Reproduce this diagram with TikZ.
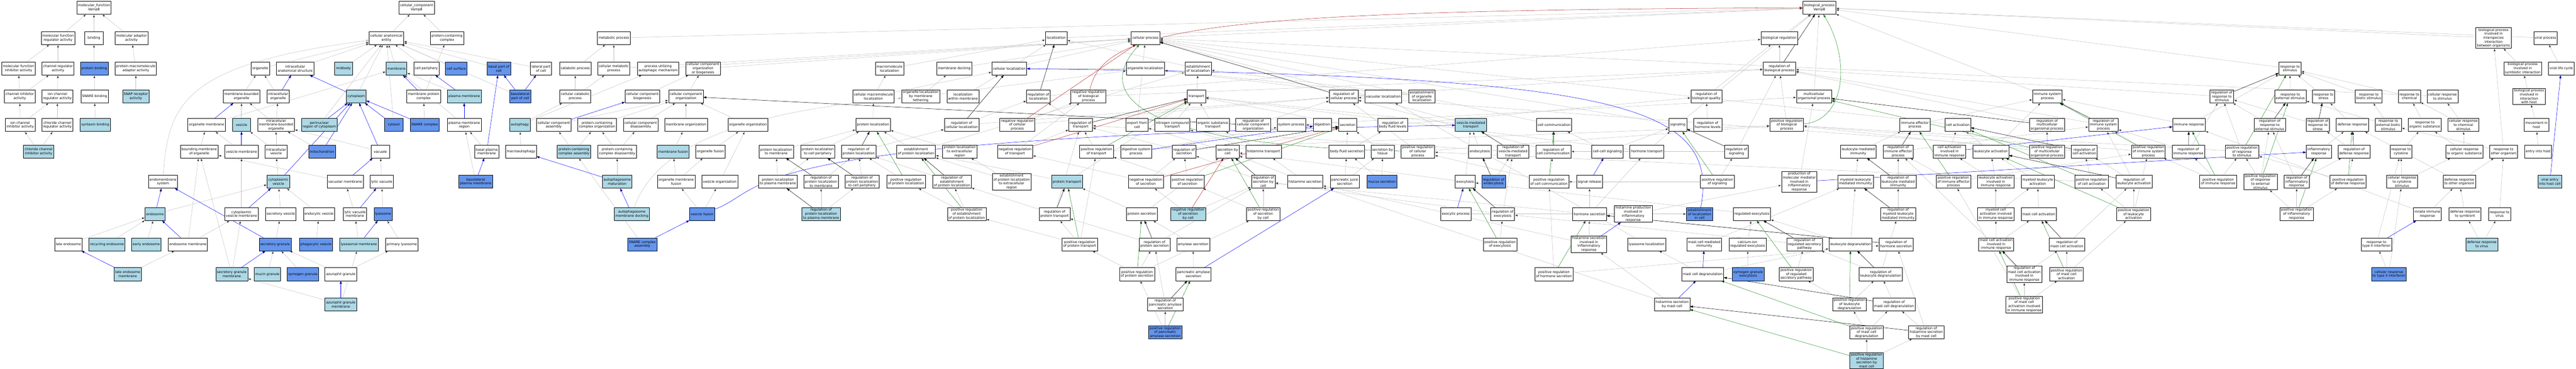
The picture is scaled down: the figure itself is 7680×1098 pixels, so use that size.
\documentclass[tikz,border=0pt]{standalone}
\usepackage{fontspec}
\setmainfont{DejaVu Sans}
\usetikzlibrary{arrows.meta,backgrounds}
\definecolor{isagrey}{RGB}{192,192,192}
\definecolor{hitblue}{RGB}{173,216,230}
\definecolor{geneblue}{RGB}{100,149,237}
\definecolor{posgreen}{RGB}{34,139,34}
\definecolor{negred}{RGB}{178,34,34}

\begin{document}
\begin{tikzpicture}[x=1pt, y=-1pt]
  \tikzstyle{term}=[draw=black, line width=0.8pt, fill=white, align=center,
    font=\fontsize{10}{11.8}\selectfont, inner xsep=3.5pt, inner ysep=2pt,
    minimum width=54pt, minimum height=38.5pt]
  \tikzstyle{lbterm}=[term, fill=hitblue]
  \tikzstyle{cbterm}=[term, fill=geneblue]
  \tikzstyle{link}=[draw, line width=0.8pt, -{Triangle[length=9pt,width=6.5pt]}]
  \tikzstyle{isa}=[link, draw=isagrey]
  \tikzstyle{partof}=[link, draw=blue]
  \tikzstyle{regs}=[link, draw=black]
  \tikzstyle{posregs}=[link, draw=posgreen]
  \tikzstyle{negregs}=[link, draw=negred]

  \useasboundingbox (0,0) rectangle (7680,1098);

  \path (280,23) node[term] (mf) {molecular\_function\\Vamp8};
  \path (173,113) node[term] (mfreg) {molecular function\\regulator activity};
  \path (280,113) node[term] (binding) {binding};
  \path (392,113) node[term] (mfadapt) {molecular adaptor\\activity};
  \path (55,204) node[term] (mfinh) {molecular function\\inhibitor activity};
  \path (173,204) node[term] (chanreg) {channel regulator\\activity};
  \path (281,204) node[cbterm] (protbind) {protein binding};
  \path (405,204) node[term] (pmadapt) {protein-macromolecule\\adaptor activity};
  \path (59,287) node[term] (chaninh) {channel inhibitor\\activity};
  \path (171,287) node[term] (ionchanreg) {ion channel\\regulator activity};
  \path (282,287) node[term] (snarebind) {SNARE binding};
  \path (405,287) node[lbterm] (snaprec) {SNAP receptor\\activity};
  \path (60,372) node[term] (ionchaninh) {ion channel\\inhibitor activity};
  \path (171,372) node[term] (clchanreg) {chloride channel\\regulator activity};
  \path (284,372) node[lbterm] (syntaxin) {syntaxin binding};
  \path (115,451) node[lbterm] (clchaninh) {chloride channel\\inhibitor activity};

  \path (1242,23) node[term] (cc) {cellular\_component\\Vamp8};
  \path (1152,113) node[term] (cae) {cellular anatomical\\entity};
  \path (1333,113) node[term] (pcc) {protein-containing\\complex};
  \path (776,204) node[term] (organelle) {organelle};
  \path (880,204) node[term] (ias) {intracellular\\anatomical structure};
  \path (1024,204) node[lbterm] (midbody) {midbody};
  \path (1182,204) node[lbterm] (membrane) {membrane};
  \path (1271,204) node[term] (cellperiph) {cell periphery};
  \path (1360,204) node[cbterm] (cellsurf) {cell surface};
  \path (1487,204) node[cbterm] (basalpart) {basal part of\\cell};
  \path (1613,204) node[term] (lateralpart) {lateral part\\of cell};
  \path (720,287) node[term] (mbo) {membrane-bounded\\organelle};
  \path (829,287) node[term] (intraorg) {intracellular\\organelle};
  \path (1062,287) node[lbterm] (cytoplasm) {cytoplasm};
  \path (1263,287) node[term] (memprot) {membrane protein\\complex};
  \path (1384,287) node[lbterm] (pm) {plasma membrane};
  \path (1551,287) node[cbterm] (basolatpart) {basolateral\\part of cell};
  \path (616,372) node[term] (orgmem) {organelle membrane};
  \path (720,372) node[lbterm] (vesicle) {vesicle};
  \path (823,372) node[term] (imbo) {intracellular\\membrane-bounded\\organelle};
  \path (952,372) node[lbterm] (perinuc) {perinuclear\\region of cytoplasm};
  \path (1174,372) node[cbterm] (cytosol) {cytosol};
  \path (1266,372) node[cbterm] (snarecx) {SNARE complex};
  \path (1384,372) node[term] (pmregion) {plasma membrane\\region};
  \path (594,451) node[term] (boundmem) {bounding membrane\\of organelle};
  \path (720,451) node[term] (vesmem) {vesicle membrane};
  \path (823,451) node[term] (intraves) {intracellular\\vesicle};
  \path (960,451) node[cbterm] (mito) {mitochondrion};
  \path (1134,451) node[term] (vacuole) {vacuole};
  \path (1451,451) node[term] (basalpm) {basal plasma\\membrane};
  \path (486,541) node[term] (endomem) {endomembrane\\system};
  \path (830,541) node[lbterm] (cytoves) {cytoplasmic\\vesicle};
  \path (1029,541) node[term] (vacmem) {vacuolar membrane};
  \path (1138,541) node[term] (lyticvac) {lytic vacuole};
  \path (1418,541) node[cbterm] (basolatpm) {basolateral\\plasma membrane};
  \path (462,637) node[lbterm] (endosome) {endosome};
  \path (720,637) node[term] (cytovesmem) {cytoplasmic\\vesicle membrane};
  \path (837,637) node[term] (secves) {secretory vesicle};
  \path (951,637) node[term] (endoves) {endocytic vesicle};
  \path (1058,637) node[term] (lyticvacmem) {lytic vacuole\\membrane};
  \path (1142,637) node[cbterm] (lysosome) {lysosome};
  \path (204,727) node[term] (lateendo) {late endosome};
  \path (319,727) node[lbterm] (recycendo) {recycling endosome};
  \path (436,727) node[lbterm] (earlyendo) {early endosome};
  \path (560,727) node[term] (endomemb) {endosome membrane};
  \path (820,727) node[cbterm] (secgran) {secretory granule};
  \path (942,727) node[cbterm] (phagoves) {phagocytic vesicle};
  \path (1070,727) node[lbterm] (lysomem) {lysosomal membrane};
  \path (1198,727) node[term] (primlyso) {primary lysosome};
  \path (381,816) node[lbterm] (lateendomem) {late endosome\\membrane};
  \path (691,816) node[lbterm] (secgranmem) {secretory granule\\membrane};
  \path (797,816) node[lbterm] (mucin) {mucin granule};
  \path (903,816) node[cbterm] (zymogen) {zymogen granule};
  \path (1016,816) node[term] (azuro) {azurophil granule};
  \path (1016,906) node[lbterm] (azuromem) {azurophil granule\\membrane};

  \path (5424,23) node[term] (bp) {biological\_process\\Vamp8};
  \path (1830,113) node[term] (metab) {metabolic process};
  \path (1715,204) node[term] (catab) {catabolic process};
  \path (1830,204) node[term] (cellmetab) {cellular metabolic\\process};
  \path (1962,204) node[term] (autoproc) {process utilizing\\autophagic mechanism};
  \path (1715,287) node[term] (cellcatab) {cellular catabolic\\process};
  \path (1915,287) node[term] (ccbiogen) {cellular component\\biogenesis};
  \path (1550,372) node[lbterm] (autophagy) {autophagy};
  \path (1651,372) node[term] (ccassembly) {cellular component\\assembly};
  \path (1780,372) node[term] (pccorg) {protein-containing\\complex organization};
  \path (1910,372) node[term] (ccdisasm) {cellular component\\disassembly};
  \path (1553,451) node[term] (macroauto) {macroautophagy};
  \path (1711,451) node[lbterm] (pccasm) {protein-containing\\complex assembly};
  \path (1840,451) node[term] (pccdisasm) {protein-containing\\complex disassembly};
  \path (1840,541) node[lbterm] (autophmat) {autophagosome\\maturation};
  \path (1884,637) node[lbterm] (autophdock) {autophagosome\\membrane docking};
  \path (1915,727) node[cbterm] (snareasm) {SNARE complex\\assembly};
  \path (2096,204) node[term] (ccorgbio) {cellular component\\organization\\or biogenesis};
  \path (2045,287) node[term] (ccorg) {cellular component\\organization};
  \path (2045,372) node[term] (memorg) {membrane organization};
  \path (2230,372) node[term] (orgorg) {organelle organization};
  \path (2007,451) node[lbterm] (memfusion) {membrane fusion};
  \path (2118,451) node[term] (orgfusion) {organelle fusion};
  \path (2016,541) node[term] (orgmemfusion) {organelle membrane\\fusion};
  \path (2146,541) node[term] (vesorg) {vesicle organization};
  \path (2093,637) node[cbterm] (vesfusion) {vesicle fusion};
  \path (2314,451) node[term] (protlocmem) {protein localization\\to membrane};
  \path (2438,451) node[term] (protloccp) {protein localization\\to cell periphery};
  \path (2319,541) node[term] (protlocpm) {protein localization\\to plasma membrane};
  \path (2448,541) node[term] (regprotlocmem) {regulation of\\protein localization\\to membrane};
  \path (2570,541) node[term] (regprotloccp) {regulation of\\protein localization\\to cell periphery};
  \path (2448,637) node[lbterm] (regprotlocpm) {regulation of\\protein localization\\to plasma membrane};

  \path (2652,204) node[term] (macroloc) {macromolecule\\localization};
  \path (2845,204) node[term] (memdock) {membrane docking};
  \path (3009,204) node[term] (cellloc) {cellular localization};
  \path (3149,113) node[term] (localization) {localization};
  \path (2604,287) node[term] (cellmacroloc) {cellular macromolecule\\localization};
  \path (2745,287) node[term] (orglocmem) {organelle localization\\by membrane\\tethering};
  \path (2871,287) node[term] (locinmem) {localization\\within membrane};
  \path (3096,287) node[term] (regloc) {regulation of\\localization};
  \path (3245,287) node[term] (negregbio) {negative regulation\\of biological\\process};
  \path (2603,372) node[term] (protloc) {protein localization};
  \path (2867,372) node[term] (regcellloc) {regulation of\\cellular localization};
  \path (3033,372) node[term] (negregcellproc) {negative regulation\\of cellular\\process};
  \path (3222,372) node[term] (regtransport) {regulation of\\transport};
  \path (2560,451) node[term] (regprotloc) {regulation of\\protein localization};
  \path (2731,451) node[term] (estprotloc) {establishment\\of protein localization};
  \path (2861,451) node[term] (protlocextra) {protein localization\\to extracellular\\region};
  \path (3026,451) node[term] (negregtransport) {negative regulation\\of transport};
  \path (2701,541) node[term] (posregprotloc) {positive regulation\\of protein localization};
  \path (2838,541) node[term] (regestprotloc) {regulation of\\establishment\\of protein localization};
  \path (3016,541) node[term] (estprotlocextra) {establishment\\of protein localization\\to extracellular\\region};
  \path (3181,541) node[lbterm] (prottransport) {protein transport};
  \path (2882,637) node[term] (posregestprotloc) {positive regulation\\of establishment\\of protein localization};
  \path (3144,637) node[term] (regprottransport) {regulation of\\protein transport};
  \path (3219,727) node[term] (posregprottransport) {positive regulation\\of protein transport};

  \path (3415,113) node[term] (cellproc) {cellular process};
  \path (3415,204) node[term] (orgloc) {organelle localization};
  \path (3572,204) node[term] (estloc) {establishment\\of localization};
  \path (3567,287) node[term] (transport) {transport};
  \path (3390,372) node[term] (exportcell) {export from\\cell};
  \path (3495,372) node[term] (nitrogen) {nitrogen compound\\transport};
  \path (3616,372) node[term] (organicsub) {organic substance\\transport};
  \path (3736,372) node[term] (regccorg) {regulation of\\cellular component\\organization};
  \path (3850,372) node[term] (systemproc) {system process};
  \path (3269,451) node[term] (posregtransport) {positive regulation\\of transport};
  \path (3387,451) node[term] (digestsys) {digestive system\\process};
  \path (3530,451) node[term] (regsecretion) {regulation of\\secretion};
  \path (3660,451) node[term] (secbycell) {secretion by\\cell};
  \path (3767,451) node[term] (histtransport) {histamine transport};
  \path (3416,541) node[term] (negregsec) {negative regulation\\of secretion};
  \path (3540,541) node[term] (posregsec) {positive regulation\\of secretion};
  \path (3766,541) node[term] (regsecbycell) {regulation of\\secretion by\\cell};
  \path (3891,541) node[term] (histsec) {histamine secretion};
  \path (3404,637) node[term] (protsec) {protein secretion};
  \path (3542,637) node[lbterm] (negregsecbycell) {negative regulation\\of secretion\\by cell};
  \path (3766,637) node[term] (posregsecbycell) {positive regulation\\of secretion\\by cell};
  \path (3442,727) node[term] (regprotsec) {regulation of\\protein secretion};
  \path (3557,727) node[term] (amylasesec) {amylase secretion};
  \path (3390,816) node[term] (posregprotsec) {positive regulation\\of protein secretion};
  \path (3558,816) node[term] (pancamylase) {pancreatic amylase\\secretion};
  \path (3474,906) node[term] (regpancamylase) {regulation of\\pancreatic amylase\\secretion};
  \path (3474,989) node[cbterm] (posregpancamylase) {positive regulation\\of pancreatic\\amylase secretion};

  \path (4006,287) node[term] (regcellproc) {regulation of\\cellular process};
  \path (4124,287) node[term] (vacloc) {vacuolar localization};
  \path (4239,287) node[term] (estorgloc) {establishment\\of organelle\\localization};
  \path (3942,372) node[term] (digestion) {digestion};
  \path (4018,372) node[term] (secretion) {secretion};
  \path (4152,372) node[term] (regbodyfluid) {regulation of\\body fluid levels};
  \path (4385,372) node[lbterm] (vmt) {vesicle-mediated\\transport};
  \path (4015,451) node[term] (bodyfluidsec) {body fluid secretion};
  \path (4122,451) node[term] (secbytissue) {secretion by\\tissue};
  \path (4227,451) node[term] (posregcellproc) {positive regulation\\of cellular\\process};
  \path (4412,451) node[term] (endocytosis) {endocytosis};
  \path (4511,451) node[term] (regvmt) {regulation of\\vesicle-mediated\\transport};
  \path (4009,541) node[term] (pancjuice) {pancreatic juice\\secretion};
  \path (4120,541) node[cbterm] (mucussec) {mucus secretion};
  \path (4368,541) node[term] (exocytosis) {exocytosis};
  \path (4453,541) node[cbterm] (regendocytosis) {regulation of\\endocytosis};
  \path (4340,637) node[term] (exocproc) {exocytic process};
  \path (4480,637) node[term] (regexocytosis) {regulation of\\exocytosis};
  \path (4472,727) node[term] (posregexocytosis) {positive regulation\\of exocytosis};

  \path (4633,372) node[term] (cellcomm) {cell communication};
  \path (5002,372) node[term] (signaling) {signaling};
  \path (5091,372) node[term] (reghormonelev) {regulation of\\hormone levels};
  \path (5087,287) node[term] (regbioqual) {regulation of\\biological quality};
  \path (4631,451) node[term] (regcellcomm) {regulation of\\cell communication};
  \path (4792,451) node[term] (cellcellsig) {cell-cell signaling};
  \path (4910,451) node[term] (hormonetransport) {hormone transport};
  \path (4618,541) node[term] (posregcellcomm) {positive regulation\\of cell communication};
  \path (4739,541) node[term] (signalrelease) {signal release};
  \path (5120,541) node[term] (posregsig) {positive regulation\\of signaling};
  \path (4739,637) node[term] (hormonesec) {hormone secretion};
  \path (4869,637) node[term] (histprodinfl) {histamine production\\involved in\\inflammatory\\response};
  \path (5067,637) node[cbterm] (estlocincell) {establishment\\of localization\\in cell};
  \path (4737,727) node[term] (histsecinfl) {histamine secretion\\involved in\\inflammatory\\response};
  \path (4909,727) node[term] (lysoloc) {lysosome localization};
  \path (5081,727) node[term] (mastcellimm) {mast cell mediated\\immunity};
  \path (4633,816) node[term] (posreghormonesec) {positive regulation\\of hormone secretion};
  \path (5076,816) node[term] (mastdegran) {mast cell degranulation};
  \path (4985,906) node[term] (histsecmast) {histamine secretion\\by mast cell};

  \path (5305,113) node[term] (bioreg) {biological regulation};
  \path (5305,204) node[term] (regbioproc) {regulation of\\biological process};
  \path (5408,287) node[term] (multicell) {multicellular\\organismal process};
  \path (5327,372) node[term] (posregbioproc) {positive regulation\\of biological\\process};
  \path (5709,372) node[term] (immeffproc) {immune effector\\process};
  \path (5177,451) node[term] (regsignaling) {regulation of\\signaling};
  \path (5540,451) node[term] (leukmedimm) {leukocyte mediated\\immunity};
  \path (5659,451) node[term] (regimmeffproc) {regulation of\\immune effector\\process};
  \path (5364,541) node[term] (prodmolmed) {production of\\molecular mediator\\involved in\\inflammatory\\response};
  \path (5532,541) node[term] (myeloidleukimm) {myeloid leukocyte\\mediated immunity};
  \path (5659,541) node[term] (regleukmedimm) {regulation of\\leukocyte mediated\\immunity};
  \path (5223,637) node[term] (regexo) {regulated exocytosis};
  \path (5659,637) node[term] (regmyeloidimm) {regulation of\\myeloid leukocyte\\mediated immunity};
  \path (5210,727) node[term] (caregexo) {calcium-ion\\regulated exocytosis};
  \path (5380,727) node[term] (regregsec) {regulation of\\regulated secretory\\pathway};
  \path (5517,727) node[term] (leukdegran) {leukocyte degranulation};
  \path (5653,727) node[term] (reghormonesec) {regulation of\\hormone secretion};
  \path (5212,816) node[cbterm] (zymoexo) {zymogen granule\\exocytosis};
  \path (5355,816) node[term] (posregregsec) {positive regulation\\of regulated\\secretory pathway};
  \path (5607,816) node[term] (regleukdegran) {regulation of\\leukocyte degranulation};
  \path (5514,906) node[term] (posregleukdegran) {positive regulation\\of leukocyte\\degranulation};
  \path (5647,906) node[term] (regmastdegran) {regulation of\\mast cell degranulation};
  \path (5565,989) node[term] (posregmastdegran) {positive regulation\\of mast cell\\degranulation};
  \path (5743,989) node[term] (reghistsecmast) {regulation of\\histamine secretion\\by mast cell};
  \path (5565,1073) node[lbterm] (posreghistsecmast) {positive regulation\\of histamine\\secretion by\\mast cell};

  \path (6104,287) node[term] (immsys) {immune system\\process};
  \path (5837,372) node[term] (cellact) {cell activation};
  \path (6103,372) node[term] (regmulticell) {regulation of\\multicellular\\organismal process};
  \path (6271,372) node[term] (regimmsys) {regulation of\\immune system\\process};
  \path (5812,451) node[term] (cellactimm) {cell activation\\involved in\\immune response};
  \path (5935,451) node[term] (leukact) {leukocyte activation};
  \path (6103,451) node[term] (posregmulticell) {positive regulation\\of multicellular\\organismal process};
  \path (6214,451) node[term] (regcellact) {regulation of\\cell activation};
  \path (6405,451) node[term] (posregimmsys) {positive regulation\\of immune system\\process};
  \path (5824,541) node[term] (posregimmeff) {positive regulation\\of immune effector\\process};
  \path (5950,541) node[term] (leukactimm) {leukocyte activation\\involved in\\immune response};
  \path (6075,541) node[term] (myeloidleukact) {myeloid leukocyte\\activation};
  \path (6236,541) node[term] (posregcellact) {positive regulation\\of cell activation};
  \path (6362,541) node[term] (regleukact) {regulation of\\leukocyte activation};
  \path (5950,637) node[term] (myeloidcellact) {myeloid cell\\activation involved\\in immune response};
  \path (6078,637) node[term] (mastcellact) {mast cell activation};
  \path (6361,637) node[term] (posregleukact) {positive regulation\\of leukocyte\\activation};
  \path (5951,727) node[term] (mastcellactimm) {mast cell activation\\involved in\\immune response};
  \path (6162,727) node[term] (regmastcellact) {regulation of\\mast cell activation};
  \path (6035,816) node[term] (regmastcellactimm) {regulation of\\mast cell activation\\involved in\\immune response};
  \path (6161,816) node[term] (posregmastcellact) {positive regulation\\of mast cell\\activation};
  \path (6035,906) node[term] (posregmastcellactimm) {positive regulation\\of mast cell\\activation involved\\in immune response};

  \path (6827,204) node[term] (respstim) {response to\\stimulus};
  \path (6624,287) node[term] (regrespstim) {regulation of\\response to\\stimulus};
  \path (6828,287) node[term] (respext) {response to\\external stimulus};
  \path (6927,287) node[term] (respstress) {response to\\stress};
  \path (7062,287) node[term] (respbiotic) {response to\\biotic stimulus};
  \path (6526,372) node[term] (immresp) {immune response};
  \path (6767,372) node[term] (regrespext) {regulation of\\response to\\external stimulus};
  \path (6910,372) node[term] (regrespstress) {regulation of\\response to\\stress};
  \path (7013,372) node[term] (defresp) {defense response};
  \path (6524,451) node[term] (regimmresp) {regulation of\\immune response};
  \path (6684,451) node[term] (posregrespstim) {positive regulation\\of response\\to stimulus};
  \path (6913,451) node[term] (inflresp) {inflammatory\\response};
  \path (7018,451) node[term] (regdefresp) {regulation of\\defense response};
  \path (6613,541) node[term] (posregimmresp) {positive regulation\\of immune response};
  \path (6739,541) node[term] (posregrespext) {positive regulation\\of response\\to external\\stimulus};
  \path (6847,541) node[term] (reginflresp) {regulation of\\inflammatory\\response};
  \path (7000,541) node[term] (posregdefresp) {positive regulation\\of defense response};
  \path (6847,637) node[term] (posreginflresp) {positive regulation\\of inflammatory\\response};

  \path (7434,113) node[term] (bpinter) {biological process\\involved in\\interspecies\\interaction\\between organisms};
  \path (7589,113) node[term] (viralproc) {viral process};
  \path (7521,204) node[term] (bpsymb) {biological process\\involved in\\symbiotic interaction};
  \path (7636,204) node[term] (viralcycle) {viral life cycle};
  \path (7183,287) node[term] (respchem) {response to\\chemical};
  \path (7282,287) node[term] (cellrespstim) {cellular response\\to stimulus};
  \path (7540,287) node[term] (bphost) {biological process\\involved in\\interaction\\with host};
  \path (7120,372) node[term] (respextbiotic) {response to\\external biotic\\stimulus};
  \path (7229,372) node[term] (resporgsub) {response to\\organic substance};
  \path (7344,372) node[term] (cellrespchem) {cellular response\\to chemical\\stimulus};
  \path (7562,372) node[term] (movhost) {movement in\\host};
  \path (7158,451) node[term] (respcytokine) {response to\\cytokine};
  \path (7347,451) node[term] (cellresporgsub) {cellular response\\to organic substance};
  \path (7464,451) node[term] (resporg) {response to\\other organism};
  \path (7567,451) node[term] (entryhost) {entry into host};
  \path (7161,541) node[term] (cellrespcytokine) {cellular response\\to cytokine\\stimulus};
  \path (7332,541) node[term] (defresporg) {defense response\\to other organism};
  \path (7602,541) node[lbterm] (viralentry) {viral entry\\into host cell};
  \path (7237,637) node[term] (innateimm) {innate immune\\response};
  \path (7349,637) node[term] (defsymb) {defense response\\to symbiont};
  \path (7452,637) node[term] (respvirus) {response to\\virus};
  \path (7085,727) node[term] (resptypeII) {response to\\type II interferon};
  \path (7399,727) node[lbterm] (defvirus) {defense response\\to virus};
  \path (7122,816) node[cbterm] (cellresptypeII) {cellular response\\to type II interferon};

  \begin{pgfonlayer}{background}
  \foreach \f/\t in {mfreg/mf, binding/mf, mfadapt/mf, mfinh/mfreg, chanreg/mfreg,
      protbind/binding, pmadapt/mfadapt, chaninh/mfinh, chaninh/chanreg,
      ionchanreg/chanreg, snarebind/protbind, snaprec/pmadapt, ionchaninh/chaninh,
      ionchaninh/ionchanreg, clchanreg/ionchanreg, syntaxin/snarebind,
      clchaninh/ionchaninh, clchaninh/clchanreg,
      cae/cc, pcc/cc, organelle/cae, ias/cae, midbody/cae, membrane/cae,
      cellperiph/cae, cellsurf/cae, basalpart/cae, lateralpart/cae,
      perinuc/cae, cytosol/cae, cytoplasm/cae, basolatpart/cae, mbo/organelle,
      intraorg/organelle, orgmem/membrane, memprot/pcc, snarecx/memprot,
      pm/membrane, pmregion/membrane, vesicle/mbo, imbo/mbo, imbo/intraorg,
      boundmem/orgmem, vesmem/orgmem, intraves/imbo, intraves/vesicle, mito/imbo,
      vacuole/imbo, cytoves/intraves, vacmem/boundmem, lyticvac/vacuole,
      cytovesmem/vesmem, secves/cytoves, endoves/cytoves, lyticvacmem/vacmem,
      lysosome/lyticvac, secgran/secves, phagoves/endoves, lysomem/lyticvacmem,
      primlyso/lysosome, secgranmem/cytovesmem, secgranmem/boundmem, mucin/secgran,
      zymogen/secgran, azuro/secgran, azuro/primlyso, azuromem/lysomem,
      azuromem/secgranmem, basalpm/pmregion, basolatpm/pmregion, lateendo/endosome,
      recycendo/endosome, earlyendo/endosome, endosome/cytoves, endomemb/boundmem,
      endomemb/cytovesmem, lateendomem/endomemb}
    \path[isa] (\f) edge (\t);

  \foreach \f/\t in {metab/bp, catab/metab, cellmetab/metab, cellmetab/cellproc,
      cellcatab/catab, cellcatab/cellmetab, autophagy/cellcatab, autophagy/autoproc,
      autoproc/cellproc, macroauto/autophagy, ccbiogen/ccorgbio, ccorg/ccorgbio,
      ccorgbio/cellproc, ccassembly/ccorg, pccorg/ccorg, ccdisasm/ccorg,
      pccasm/ccassembly, pccasm/pccorg, pccdisasm/pccorg, pccdisasm/ccdisasm,
      autophmat/pccdisasm, snareasm/pccasm, memorg/ccorg,
      orgorg/ccorg, memfusion/memorg, orgfusion/orgorg, orgmemfusion/memfusion,
      orgmemfusion/orgfusion, vesorg/orgorg, vesfusion/orgmemfusion, vesfusion/vesorg,
      protlocmem/protloc, protloccp/protloc, protlocpm/protlocmem,
      protlocpm/protloccp, regprotlocmem/regprotloc, regprotloccp/regprotloc,
      regprotlocpm/regprotlocmem, regprotlocpm/regprotloccp,
      macroloc/localization, localization/bp, cellloc/localization, cellloc/cellproc,
      cellmacroloc/macroloc, cellmacroloc/cellloc, orglocmem/memdock,
      orglocmem/orgloc, memdock/cellproc, locinmem/cellloc, protloc/cellmacroloc,
      regloc/bioreg, regcellloc/regloc, regcellloc/regcellproc,
      negregcellproc/negregbio, negregcellproc/regcellproc, regprotloc/regcellloc,
      estprotloc/protloc, estprotloc/estloc, protlocextra/protloc,
      negregtransport/regtransport, negregtransport/negregbio,
      posregprotloc/regprotloc, regestprotloc/regprotloc,
      estprotlocextra/protlocextra, estprotlocextra/estprotloc,
      prottransport/estprotloc, prottransport/transport,
      posregestprotloc/regestprotloc, posregestprotloc/posregprotloc,
      regprottransport/regestprotloc, regprottransport/regtransport,
      posregprottransport/regprottransport, posregprottransport/posregestprotloc,
      posregprottransport/posregtransport}
    \path[isa] (\f) edge (\t);

  \foreach \f/\t in {cellproc/bp, orgloc/cellloc, estloc/localization,
      negregbio/regbioproc, transport/estloc, regtransport/regloc,
      exportcell/transport, exportcell/cellproc, nitrogen/transport,
      organicsub/transport, regccorg/regcellproc, systemproc/multicell,
      posregtransport/regtransport, posregtransport/posregbioproc,
      digestsys/systemproc, regsecretion/regtransport, secbycell/exportcell,
      secbycell/secretion, histtransport/nitrogen, histtransport/organicsub,
      negregsec/regsecretion, negregsec/negregtransport, posregsec/regsecretion,
      posregsec/posregtransport, regsecbycell/regsecretion, protsec/prottransport,
      protsec/secbycell, negregsecbycell/negregsec, negregsecbycell/regsecbycell,
      posregsecbycell/regsecbycell, posregsecbycell/posregsec,
      regprotsec/regprottransport, regprotsec/regsecbycell, amylasesec/protsec,
      posregprotsec/regprotsec, posregprotsec/posregprottransport,
      posregprotsec/posregsecbycell, pancamylase/amylasesec,
      regpancamylase/regprotsec, posregpancamylase/regpancamylase,
      posregpancamylase/posregprotsec,
      regcellproc/regbioproc, vacloc/orgloc, estorgloc/orgloc, estorgloc/estloc,
      digestion/systemproc, secretion/transport, regbodyfluid/regbioqual,
      vmt/transport, vmt/cellproc, bodyfluidsec/secretion,
      bodyfluidsec/regbodyfluid, secbytissue/secretion,
      posregcellproc/regcellproc, posregcellproc/posregbioproc, endocytosis/vmt,
      regvmt/regtransport, histsec/secbycell, histsec/histtransport,
      pancjuice/bodyfluidsec, pancjuice/secbytissue, mucussec/secbytissue,
      mucussec/bodyfluidsec, exocytosis/vmt, exocytosis/secbycell,
      regendocytosis/regvmt, exocproc/estlocincell, regexocytosis/regvmt,
      regexocytosis/regsecbycell, posregexocytosis/regexocytosis}
    \path[isa] (\f) edge (\t);

  \foreach \f/\t in {cellcomm/cellproc, signaling/cellproc, signaling/bp,
      regcellcomm/regcellproc, cellcellsig/cellcomm, cellcellsig/signaling,
      hormonetransport/signaling, hormonetransport/transport,
      posregcellcomm/regcellcomm, posregcellcomm/posregcellproc,
      posregsig/regsignaling, posregsig/posregcellcomm, hormonesec/signalrelease,
      hormonesec/hormonetransport, histprodinfl/prodmolmed, histsecinfl/hormonesec,
      histsecinfl/histsec, lysoloc/vacloc, mastcellimm/myeloidleukimm,
      posreghormonesec/posregcellcomm, posreghormonesec/reghormonesec,
      mastdegran/leukdegran, mastdegran/lysoloc, histsecmast/histsecinfl,
      histsecmast/histsec, reghormonelev/regbioqual, regbioqual/bioreg,
      bioreg/bp, regbioproc/bioreg, multicell/bp, posregbioproc/regbioproc,
      immeffproc/immsys, regsignaling/regbioproc, regsignaling/regcellcomm,
      leukmedimm/immeffproc, regimmeffproc/regimmsys, prodmolmed/multicell,
      myeloidleukimm/leukmedimm, regleukmedimm/regimmeffproc, regexo/exocytosis,
      regmyeloidimm/regleukmedimm, caregexo/regexo, regregsec/regexocytosis,
      leukdegran/regexo, leukdegran/myeloidleukimm, reghormonesec/regsecbycell,
      zymoexo/caregexo, posregregsec/regregsec, regleukdegran/regmyeloidimm,
      regleukdegran/regregsec, posregleukdegran/regleukdegran,
      posregleukdegran/posregregsec, regmastdegran/regleukdegran,
      posregmastdegran/regmastdegran, posregmastdegran/posregleukdegran,
      reghistsecmast/regmastdegran, reghistsecmast/reghormonesec,
      posreghistsecmast/posregmastdegran, posreghistsecmast/reghistsecmast}
    \path[isa] (\f) edge (\t);

  \foreach \f/\t in {immsys/bp, cellact/cellproc, leukact/cellact, leukact/immsys,
      cellactimm/cellact, regmulticell/regbioproc, regimmsys/regbioproc,
      posregmulticell/regmulticell, posregmulticell/posregbioproc,
      regcellact/regcellproc, posregimmsys/regimmsys, posregimmsys/posregbioproc,
      posregimmeff/regimmeffproc, posregimmeff/posregimmsys, leukactimm/leukact,
      leukactimm/cellactimm, myeloidleukact/leukact, posregcellact/regcellact,
      posregcellact/posregcellproc, regleukact/regcellact, regleukact/regimmsys,
      myeloidcellact/leukactimm, myeloidcellact/myeloidleukact,
      mastcellact/myeloidleukact, posregleukact/regleukact,
      posregleukact/posregcellact, posregleukact/posregimmsys,
      mastcellactimm/myeloidcellact, mastcellactimm/mastcellact,
      regmastcellact/regleukact, regmastcellactimm/regmastcellact,
      regmastcellactimm/regimmeffproc, posregmastcellact/regmastcellact,
      posregmastcellact/posregleukact, posregmastcellactimm/regmastcellactimm,
      posregmastcellactimm/posregmastcellact, posregmastcellactimm/posregimmeff,
      respstim/bp, regrespstim/regbioproc, respext/respstim, respstress/respstim,
      respbiotic/respstim, immresp/immsys, immresp/respstim,
      regrespext/regrespstim, regrespstress/regrespstim, defresp/respstress,
      regimmresp/regimmsys, regimmresp/regrespstim, posregrespstim/regrespstim,
      posregrespstim/posregbioproc, inflresp/defresp, regdefresp/regrespstress,
      posregimmresp/regimmresp, posregimmresp/posregimmsys,
      posregimmresp/posregrespstim, posregrespext/posregrespstim,
      posregrespext/regrespext, reginflresp/regdefresp, reginflresp/regrespext,
      posregdefresp/regdefresp, posregdefresp/posregrespstim,
      posreginflresp/reginflresp, posreginflresp/posregrespext,
      posreginflresp/posregdefresp,
      bpinter/bp, viralproc/bp, respchem/respstim, cellrespstim/cellproc,
      bpsymb/bpinter, viralcycle/viralproc, bphost/bpsymb,
      respextbiotic/respbiotic, respextbiotic/respext, resporgsub/respchem,
      cellrespchem/respchem, cellrespchem/cellrespstim, movhost/bphost,
      respcytokine/resporgsub, cellresporgsub/resporgsub,
      cellresporgsub/cellrespchem, resporg/respextbiotic, resporg/bpinter,
      entryhost/movhost, cellrespcytokine/respcytokine,
      cellrespcytokine/cellresporgsub, defresporg/resporg, defresporg/defresp,
      innateimm/defresporg, innateimm/immresp, defsymb/defresporg,
      respvirus/resporg, resptypeII/respcytokine, defvirus/defsymb,
      defvirus/respvirus, cellresptypeII/resptypeII,
      cellresptypeII/cellrespcytokine}
    \path[isa] (\f) edge (\t);

  \path[isa] (endomem) .. controls (500,300) and (560,190) .. (cae);
  \path[isa] (autophdock) .. controls (1960,420) and (2250,330) .. (orglocmem);

  \foreach \f/\t in {endosome/endomem, endomemb/endosome, lateendomem/lateendo,
      secgran/endomem, intraorg/ias, cytoplasm/ias, orgmem/mbo, perinuc/cytoplasm,
      cytosol/cytoplasm, snarecx/cytoplasm, mito/cytoplasm, vacuole/cytoplasm,
      cytoves/cytoplasm, memprot/membrane, vesmem/vesicle, vacmem/vacuole,
      cytovesmem/cytoves, lyticvacmem/lyticvac, lysomem/lysosome,
      secgranmem/secgran, azuromem/azuro, pm/cellperiph, basolatpart/basalpart,
      basolatpart/lateralpart, pmregion/pm, basalpm/basalpart, basolatpm/basalpm,
      ccassembly/ccbiogen, autophmat/macroauto, autophdock/autophmat,
      snareasm/vesfusion, pancamylase/pancjuice, digestsys/digestion,
      signalrelease/cellcellsig, histsecinfl/histprodinfl, mastdegran/mastcellimm,
      histsecmast/mastdegran, prodmolmed/inflresp, cellactimm/immresp,
      viralentry/viralcycle, resptypeII/innateimm, exocproc/exocytosis}
    \path[partof] (\f) edge (\t);

  \path[partof] (vesfusion) .. controls (2300,560) and (2150,410) .. (vmt);
  \path[partof] (estlocincell) .. controls (5130,300) and (4800,225) .. (cellloc);

  \foreach \f/\t in {regccorg/ccorg, regprotlocmem/protlocmem,
      regprotloccp/protloccp, regprotlocpm/protlocpm, regloc/localization,
      regcellloc/cellloc, regprotloc/protloc, regestprotloc/estprotloc,
      regprottransport/prottransport, regtransport/transport,
      regsecretion/secretion, regsecbycell/secbycell, regprotsec/protsec,
      regpancamylase/pancamylase, regcellproc/cellproc, regvmt/vmt,
      regendocytosis/endocytosis, regexocytosis/exocytosis, regcellcomm/cellcomm,
      reghormonesec/hormonesec, reghistsecmast/histsecmast, regbioproc/bp,
      regimmeffproc/immeffproc, regleukmedimm/leukmedimm,
      regmyeloidimm/myeloidleukimm, regregsec/regexo, regleukdegran/leukdegran,
      regmastdegran/mastdegran, regmulticell/multicell, regimmsys/immsys,
      regcellact/cellact, regleukact/leukact, regmastcellact/mastcellact,
      regmastcellactimm/mastcellactimm, regrespstim/respstim, regrespext/respext,
      regrespstress/respstress, regimmresp/immresp, reginflresp/inflresp,
      regdefresp/defresp, regsignaling/signaling}
    \path[regs] (\f) edge (\t);

  \foreach \f/\t in {posregprotloc/protloc, posregestprotloc/estprotloc,
      posregprottransport/prottransport, posregtransport/transport,
      posregsec/secretion, posregsecbycell/secbycell, posregprotsec/protsec,
      posregpancamylase/pancamylase,
      posregexocytosis/exocytosis, posregcellcomm/cellcomm, posregsig/signaling,
      posreghormonesec/hormonesec, posreghistsecmast/histsecmast,
      posregregsec/regexo, posregleukdegran/leukdegran,
      posregmastdegran/mastdegran, posregmulticell/multicell,
      posregimmsys/immsys, posregimmeff/immeffproc, posregcellact/cellact,
      posregleukact/leukact, posregmastcellact/mastcellact,
      posregmastcellactimm/mastcellactimm, posregrespstim/respstim,
      posregimmresp/immresp, posregrespext/respext, posreginflresp/inflresp,
      posregdefresp/defresp}
    \path[posregs] (\f) edge (\t);

  \path[posregs] (posregcellproc) .. controls (3320,430) and (3280,260) .. (cellproc);
  \path[posregs] (posregbioproc) .. controls (5500,360) and (5520,180) .. (bp);

  \foreach \f/\t in {negregcellproc/cellproc, negregtransport/transport,
      negregsec/secretion, negregsecbycell/secbycell}
    \path[negregs] (\f) edge (\t);

  \path[negregs] (negregbio) .. controls (3290,80) and (3600,30) .. (bp);
  \end{pgfonlayer}

\end{tikzpicture}
\end{document}
